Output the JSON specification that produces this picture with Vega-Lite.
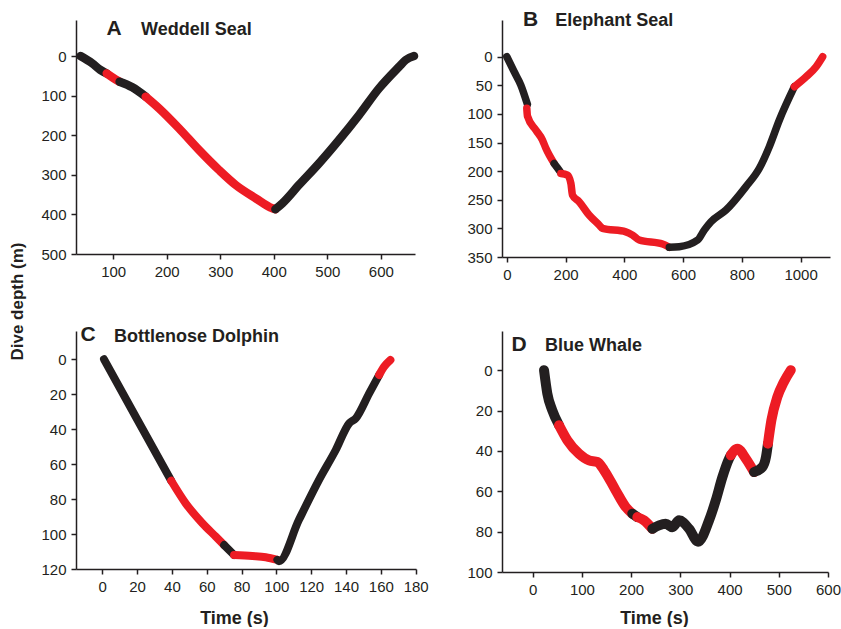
{
  "$schema": "https://vega.github.io/schema/vega-lite/v6.json",
  "background": "white",
  "autosize": {"type": "pad"},
  "padding": {"left": 8, "top": 9, "right": 0, "bottom": 0},
  "config": {
    "font": "Liberation Sans",
    "view": {"stroke": null},
    "axis": {
      "grid": false,
      "labelFont": "Liberation Sans",
      "labelFontSize": 15,
      "labelColor": "#231f20",
      "labelOverlap": false,
      "labelFlush": false,
      "domainColor": "#231f20",
      "tickColor": "#231f20",
      "domainWidth": 1.5,
      "tickWidth": 1.5,
      "tickSize": 5,
      "labelPadding": 5,
      "titleFont": "Liberation Sans",
      "titleFontSize": 17,
      "titleFontWeight": "bold",
      "titleColor": "#231f20"
    }
  },
  "datasets": {
    "A": [
      {"s": 1, "c": "black", "t": 39, "d": 0},
      {"s": 1, "c": "black", "t": 61, "d": 18.5},
      {"s": 1, "c": "black", "t": 76, "d": 35},
      {"s": 1, "c": "black", "t": 88, "d": 44},
      {"s": 2, "c": "red", "t": 88, "d": 44},
      {"s": 2, "c": "red", "t": 100, "d": 55},
      {"s": 2, "c": "red", "t": 112, "d": 64.9},
      {"s": 3, "c": "black", "t": 112, "d": 64.9},
      {"s": 3, "c": "black", "t": 135.8, "d": 79},
      {"s": 3, "c": "black", "t": 160.8, "d": 102.7},
      {"s": 4, "c": "red", "t": 160.8, "d": 102.7},
      {"s": 4, "c": "red", "t": 185.7, "d": 132},
      {"s": 4, "c": "red", "t": 223, "d": 182.6},
      {"s": 4, "c": "red", "t": 260.4, "d": 237.4},
      {"s": 4, "c": "red", "t": 297.7, "d": 287.9},
      {"s": 4, "c": "red", "t": 328.9, "d": 325.7},
      {"s": 4, "c": "red", "t": 366.3, "d": 359.3},
      {"s": 4, "c": "red", "t": 397.3, "d": 384.6},
      {"s": 4, "c": "red", "t": 403, "d": 387},
      {"s": 5, "c": "black", "t": 403, "d": 387},
      {"s": 5, "c": "black", "t": 416, "d": 372},
      {"s": 5, "c": "black", "t": 447, "d": 325.7},
      {"s": 5, "c": "black", "t": 484.5, "d": 271},
      {"s": 5, "c": "black", "t": 521.8, "d": 212},
      {"s": 5, "c": "black", "t": 559.2, "d": 149},
      {"s": 5, "c": "black", "t": 596.6, "d": 81.6},
      {"s": 5, "c": "black", "t": 634, "d": 27},
      {"s": 5, "c": "black", "t": 646.4, "d": 10},
      {"s": 5, "c": "black", "t": 662, "d": 0}
    ],
    "B": [
      {"s": 1, "c": "black", "t": 0, "d": 0},
      {"s": 1, "c": "black", "t": 24.9, "d": 26.2},
      {"s": 1, "c": "black", "t": 47.7, "d": 49.5},
      {"s": 1, "c": "black", "t": 70, "d": 83},
      {"s": 2, "c": "red", "t": 68, "d": 90},
      {"s": 2, "c": "red", "t": 70.3, "d": 103.7},
      {"s": 2, "c": "red", "t": 98.7, "d": 128},
      {"s": 2, "c": "red", "t": 121.4, "d": 145.6},
      {"s": 2, "c": "red", "t": 132.9, "d": 160},
      {"s": 2, "c": "red", "t": 161, "d": 186.4},
      {"s": 3, "c": "black", "t": 161, "d": 186.4},
      {"s": 3, "c": "black", "t": 172, "d": 194},
      {"s": 3, "c": "black", "t": 184, "d": 202.7},
      {"s": 4, "c": "red", "t": 184, "d": 204},
      {"s": 4, "c": "red", "t": 206.5, "d": 206.8},
      {"s": 4, "c": "red", "t": 218, "d": 221},
      {"s": 4, "c": "red", "t": 223.6, "d": 241.7},
      {"s": 4, "c": "red", "t": 246, "d": 253.4},
      {"s": 4, "c": "red", "t": 280, "d": 276.7},
      {"s": 4, "c": "red", "t": 314.5, "d": 294.2},
      {"s": 4, "c": "red", "t": 325.7, "d": 300},
      {"s": 4, "c": "red", "t": 405, "d": 306},
      {"s": 4, "c": "red", "t": 428, "d": 311.7},
      {"s": 4, "c": "red", "t": 450.7, "d": 320.4},
      {"s": 4, "c": "red", "t": 530, "d": 327.4},
      {"s": 4, "c": "red", "t": 553, "d": 333},
      {"s": 5, "c": "black", "t": 553, "d": 333},
      {"s": 5, "c": "black", "t": 587, "d": 332},
      {"s": 5, "c": "black", "t": 649.4, "d": 320.4},
      {"s": 5, "c": "black", "t": 672, "d": 303},
      {"s": 5, "c": "black", "t": 695, "d": 288.4},
      {"s": 5, "c": "black", "t": 746, "d": 268},
      {"s": 5, "c": "black", "t": 814, "d": 227},
      {"s": 5, "c": "black", "t": 859.6, "d": 195},
      {"s": 5, "c": "black", "t": 893.6, "d": 157},
      {"s": 5, "c": "black", "t": 927.7, "d": 110.6},
      {"s": 5, "c": "black", "t": 978.8, "d": 52.4},
      {"s": 6, "c": "red", "t": 978.8, "d": 52.4},
      {"s": 6, "c": "red", "t": 1018.7, "d": 35},
      {"s": 6, "c": "red", "t": 1052.7, "d": 17.5},
      {"s": 6, "c": "red", "t": 1075, "d": 0}
    ],
    "C": [
      {"s": 1, "c": "black", "t": 1, "d": 0},
      {"s": 1, "c": "black", "t": 20, "d": 34.3},
      {"s": 1, "c": "black", "t": 39.6, "d": 69.5},
      {"s": 2, "c": "red", "t": 39.6, "d": 69.5},
      {"s": 2, "c": "red", "t": 47.9, "d": 82.4},
      {"s": 2, "c": "red", "t": 57.5, "d": 93.8},
      {"s": 2, "c": "red", "t": 65.2, "d": 101.5},
      {"s": 2, "c": "red", "t": 70, "d": 106.3},
      {"s": 3, "c": "black", "t": 70, "d": 106.3},
      {"s": 3, "c": "black", "t": 75.7, "d": 112},
      {"s": 4, "c": "red", "t": 75.7, "d": 112},
      {"s": 4, "c": "red", "t": 86.2, "d": 112.6},
      {"s": 4, "c": "red", "t": 93.9, "d": 113.3},
      {"s": 4, "c": "red", "t": 100.6, "d": 114.8},
      {"s": 5, "c": "black", "t": 100.6, "d": 114.8},
      {"s": 5, "c": "black", "t": 101.5, "d": 115.5},
      {"s": 5, "c": "black", "t": 112.9, "d": 92},
      {"s": 5, "c": "black", "t": 124.5, "d": 69},
      {"s": 5, "c": "black", "t": 134.1, "d": 51.9},
      {"s": 5, "c": "black", "t": 141.8, "d": 36.6},
      {"s": 5, "c": "black", "t": 145.6, "d": 33.8},
      {"s": 5, "c": "black", "t": 153.3, "d": 19.5},
      {"s": 5, "c": "black", "t": 159, "d": 9},
      {"s": 6, "c": "red", "t": 159, "d": 9},
      {"s": 6, "c": "red", "t": 161.9, "d": 4.2},
      {"s": 6, "c": "red", "t": 165.5, "d": 0.4}
    ],
    "D": [
      {"s": 1, "c": "black", "t": 23, "d": 0},
      {"s": 1, "c": "black", "t": 29.7, "d": 11.6},
      {"s": 1, "c": "black", "t": 39.8, "d": 19.9},
      {"s": 1, "c": "black", "t": 53.5, "d": 27.3},
      {"s": 2, "c": "red", "t": 53.5, "d": 27.3},
      {"s": 2, "c": "red", "t": 70.3, "d": 34.7},
      {"s": 2, "c": "red", "t": 94.1, "d": 41.4},
      {"s": 2, "c": "red", "t": 114.4, "d": 44.7},
      {"s": 2, "c": "red", "t": 131.3, "d": 45.5},
      {"s": 2, "c": "red", "t": 145, "d": 49.6},
      {"s": 2, "c": "red", "t": 168.7, "d": 59.6},
      {"s": 2, "c": "red", "t": 189, "d": 67.8},
      {"s": 2, "c": "red", "t": 202.4, "d": 71.1},
      {"s": 3, "c": "black", "t": 202.4, "d": 71.1},
      {"s": 3, "c": "black", "t": 212.6, "d": 72.8},
      {"s": 4, "c": "red", "t": 212.6, "d": 72.8},
      {"s": 4, "c": "red", "t": 226.2, "d": 74.4},
      {"s": 4, "c": "red", "t": 243, "d": 78.6},
      {"s": 5, "c": "black", "t": 243, "d": 78.6},
      {"s": 5, "c": "black", "t": 256.7, "d": 76.9},
      {"s": 5, "c": "black", "t": 270.3, "d": 76.1},
      {"s": 5, "c": "black", "t": 283.7, "d": 77.8},
      {"s": 5, "c": "black", "t": 297.4, "d": 74.4},
      {"s": 5, "c": "black", "t": 317.7, "d": 78.6},
      {"s": 5, "c": "black", "t": 336, "d": 85},
      {"s": 5, "c": "black", "t": 358.3, "d": 74.4},
      {"s": 5, "c": "black", "t": 372, "d": 64.5},
      {"s": 5, "c": "black", "t": 385.4, "d": 53},
      {"s": 5, "c": "black", "t": 399, "d": 43.8},
      {"s": 5, "c": "black", "t": 402.4, "d": 42.2},
      {"s": 6, "c": "red", "t": 402.4, "d": 42.2},
      {"s": 6, "c": "red", "t": 415.9, "d": 38.9},
      {"s": 6, "c": "red", "t": 433, "d": 43.8},
      {"s": 6, "c": "red", "t": 449.8, "d": 50.5},
      {"s": 7, "c": "black", "t": 449.8, "d": 50.5},
      {"s": 7, "c": "black", "t": 466.7, "d": 48},
      {"s": 7, "c": "black", "t": 474, "d": 43},
      {"s": 7, "c": "black", "t": 478, "d": 36.4},
      {"s": 8, "c": "red", "t": 478, "d": 36.4},
      {"s": 8, "c": "red", "t": 485, "d": 24.8},
      {"s": 8, "c": "red", "t": 497.2, "d": 13.2},
      {"s": 8, "c": "red", "t": 510, "d": 6},
      {"s": 8, "c": "red", "t": 524.4, "d": 0}
    ],
    "labels": [
      {"p": "A", "k": "letter", "txt": "A", "t": 101.6, "d": -68},
      {"p": "A", "k": "name", "txt": "Weddell Seal", "t": 152, "d": -65.7},
      {"p": "B", "k": "letter", "txt": "B", "t": 81, "d": -64},
      {"p": "B", "k": "name", "txt": "Elephant Seal", "t": 164.6, "d": -62.4},
      {"p": "C", "k": "letter", "txt": "C", "t": -8.2, "d": -13.9},
      {"p": "C", "k": "name", "txt": "Bottlenose Dolphin", "t": 6.7, "d": -12.9},
      {"p": "D", "k": "letter", "txt": "D", "t": -27.8, "d": -12.4},
      {"p": "D", "k": "name", "txt": "Blue Whale", "t": 25, "d": -11.9}
    ]
  },
  "columns": 2,
  "align": "none",
  "bounds": "flush",
  "spacing": {"row": 74, "column": 86},
  "concat": [
    {
      "width": 339,
      "height": 234,
      "encoding": {
        "x": {"field": "t", "type": "quantitative", "scale": {"domain": [30.6, 663.8], "nice": false, "zero": false}, "axis": {"values": [100, 200, 300, 400, 500, 600], "title": null}},
        "y": {"field": "d", "type": "quantitative", "scale": {"domain": [-91, 500], "reverse": true, "nice": false, "zero": false}, "axis": {"values": [0, 100, 200, 300, 400, 500], "title": null}}
      },
      "layer": [
        {
          "data": {"name": "A"},
          "mark": {"type": "line", "strokeWidth": 8.5, "strokeCap": "round", "strokeJoin": "round", "interpolate": "monotone"},
          "encoding": {
            "color": {"field": "c", "type": "nominal", "scale": {"domain": ["black", "red"], "range": ["#231f20", "#ed1c24"]}, "legend": null},
            "detail": {"field": "s", "type": "nominal"}
          }
        },
        {
          "data": {"name": "labels"},
          "transform": [{"filter": "datum.p === 'A' && datum.k === 'letter'"}],
          "mark": {"type": "text", "fontSize": 21, "fontWeight": "bold", "align": "center", "baseline": "middle", "color": "#231f20"},
          "encoding": {"text": {"field": "txt", "type": "nominal"}}
        },
        {
          "data": {"name": "labels"},
          "transform": [{"filter": "datum.p === 'A' && datum.k === 'name'"}],
          "mark": {"type": "text", "fontSize": 18, "fontWeight": "bold", "align": "left", "baseline": "middle", "color": "#231f20"},
          "encoding": {"text": {"field": "txt", "type": "nominal"}}
        }
      ]
    },
    {
      "width": 328,
      "height": 237,
      "encoding": {
        "x": {"field": "t", "type": "quantitative", "scale": {"domain": [-16.4, 1100], "nice": false, "zero": false}, "axis": {"values": [0, 200, 400, 600, 800, 1000], "format": "d", "title": null}},
        "y": {"field": "d", "type": "quantitative", "scale": {"domain": [-64.2, 350], "reverse": true, "nice": false, "zero": false}, "axis": {"values": [0, 50, 100, 150, 200, 250, 300, 350], "title": null}}
      },
      "layer": [
        {
          "data": {"name": "B"},
          "mark": {"type": "line", "strokeWidth": 7.5, "strokeCap": "round", "strokeJoin": "round", "interpolate": "monotone"},
          "encoding": {
            "color": {"field": "c", "type": "nominal", "scale": {"domain": ["black", "red"], "range": ["#231f20", "#ed1c24"]}, "legend": null},
            "detail": {"field": "s", "type": "nominal"}
          }
        },
        {
          "data": {"name": "labels"},
          "transform": [{"filter": "datum.p === 'B' && datum.k === 'letter'"}],
          "mark": {"type": "text", "fontSize": 21, "fontWeight": "bold", "align": "center", "baseline": "middle", "color": "#231f20"},
          "encoding": {"text": {"field": "txt", "type": "nominal"}}
        },
        {
          "data": {"name": "labels"},
          "transform": [{"filter": "datum.p === 'B' && datum.k === 'name'"}],
          "mark": {"type": "text", "fontSize": 18, "fontWeight": "bold", "align": "left", "baseline": "middle", "color": "#231f20"},
          "encoding": {"text": {"field": "txt", "type": "nominal"}}
        }
      ]
    },
    {
      "width": 340,
      "height": 238,
      "encoding": {
        "x": {"field": "t", "type": "quantitative", "scale": {"domain": [-15.1, 180.2], "nice": false, "zero": false}, "axis": {"values": [0, 20, 40, 60, 80, 100, 120, 140, 160, 180], "title": "Time (s)", "titleX": 158, "titleY": 49, "titleBaseline": "middle", "titleFontSize": 18}},
        "y": {"field": "d", "type": "quantitative", "scale": {"domain": [-16.2, 120], "reverse": true, "nice": false, "zero": false}, "axis": {"values": [0, 20, 40, 60, 80, 100, 120], "title": "Dive depth (m)", "titleX": -59, "titleY": -30, "titleAngle": -90, "titleBaseline": "middle", "titleAlign": "center"}}
      },
      "layer": [
        {
          "data": {"name": "C"},
          "mark": {"type": "line", "strokeWidth": 8, "strokeCap": "round", "strokeJoin": "round", "interpolate": "monotone"},
          "encoding": {
            "color": {"field": "c", "type": "nominal", "scale": {"domain": ["black", "red"], "range": ["#231f20", "#ed1c24"]}, "legend": null},
            "detail": {"field": "s", "type": "nominal"}
          }
        },
        {
          "data": {"name": "labels"},
          "transform": [{"filter": "datum.p === 'C' && datum.k === 'letter'"}],
          "mark": {"type": "text", "fontSize": 21, "fontWeight": "bold", "align": "center", "baseline": "middle", "color": "#231f20"},
          "encoding": {"text": {"field": "txt", "type": "nominal"}}
        },
        {
          "data": {"name": "labels"},
          "transform": [{"filter": "datum.p === 'C' && datum.k === 'name'"}],
          "mark": {"type": "text", "fontSize": 18, "fontWeight": "bold", "align": "left", "baseline": "middle", "color": "#231f20"},
          "encoding": {"text": {"field": "txt", "type": "nominal"}}
        }
      ]
    },
    {
      "width": 326,
      "height": 241,
      "encoding": {
        "x": {"field": "t", "type": "quantitative", "scale": {"domain": [-62.4, 600], "nice": false, "zero": false}, "axis": {"values": [0, 100, 200, 300, 400, 500, 600], "title": "Time (s)", "titleX": 152, "titleY": 46, "titleBaseline": "middle", "titleFontSize": 18}},
        "y": {"field": "d", "type": "quantitative", "scale": {"domain": [-19.4, 100], "reverse": true, "nice": false, "zero": false}, "axis": {"values": [0, 20, 40, 60, 80, 100], "title": null}}
      },
      "layer": [
        {
          "data": {"name": "D"},
          "mark": {"type": "line", "strokeWidth": 10, "strokeCap": "round", "strokeJoin": "round", "interpolate": "monotone"},
          "encoding": {
            "color": {"field": "c", "type": "nominal", "scale": {"domain": ["black", "red"], "range": ["#231f20", "#ed1c24"]}, "legend": null},
            "detail": {"field": "s", "type": "nominal"}
          }
        },
        {
          "data": {"name": "labels"},
          "transform": [{"filter": "datum.p === 'D' && datum.k === 'letter'"}],
          "mark": {"type": "text", "fontSize": 21, "fontWeight": "bold", "align": "center", "baseline": "middle", "color": "#231f20"},
          "encoding": {"text": {"field": "txt", "type": "nominal"}}
        },
        {
          "data": {"name": "labels"},
          "transform": [{"filter": "datum.p === 'D' && datum.k === 'name'"}],
          "mark": {"type": "text", "fontSize": 18, "fontWeight": "bold", "align": "left", "baseline": "middle", "color": "#231f20"},
          "encoding": {"text": {"field": "txt", "type": "nominal"}}
        }
      ]
    }
  ]
}
